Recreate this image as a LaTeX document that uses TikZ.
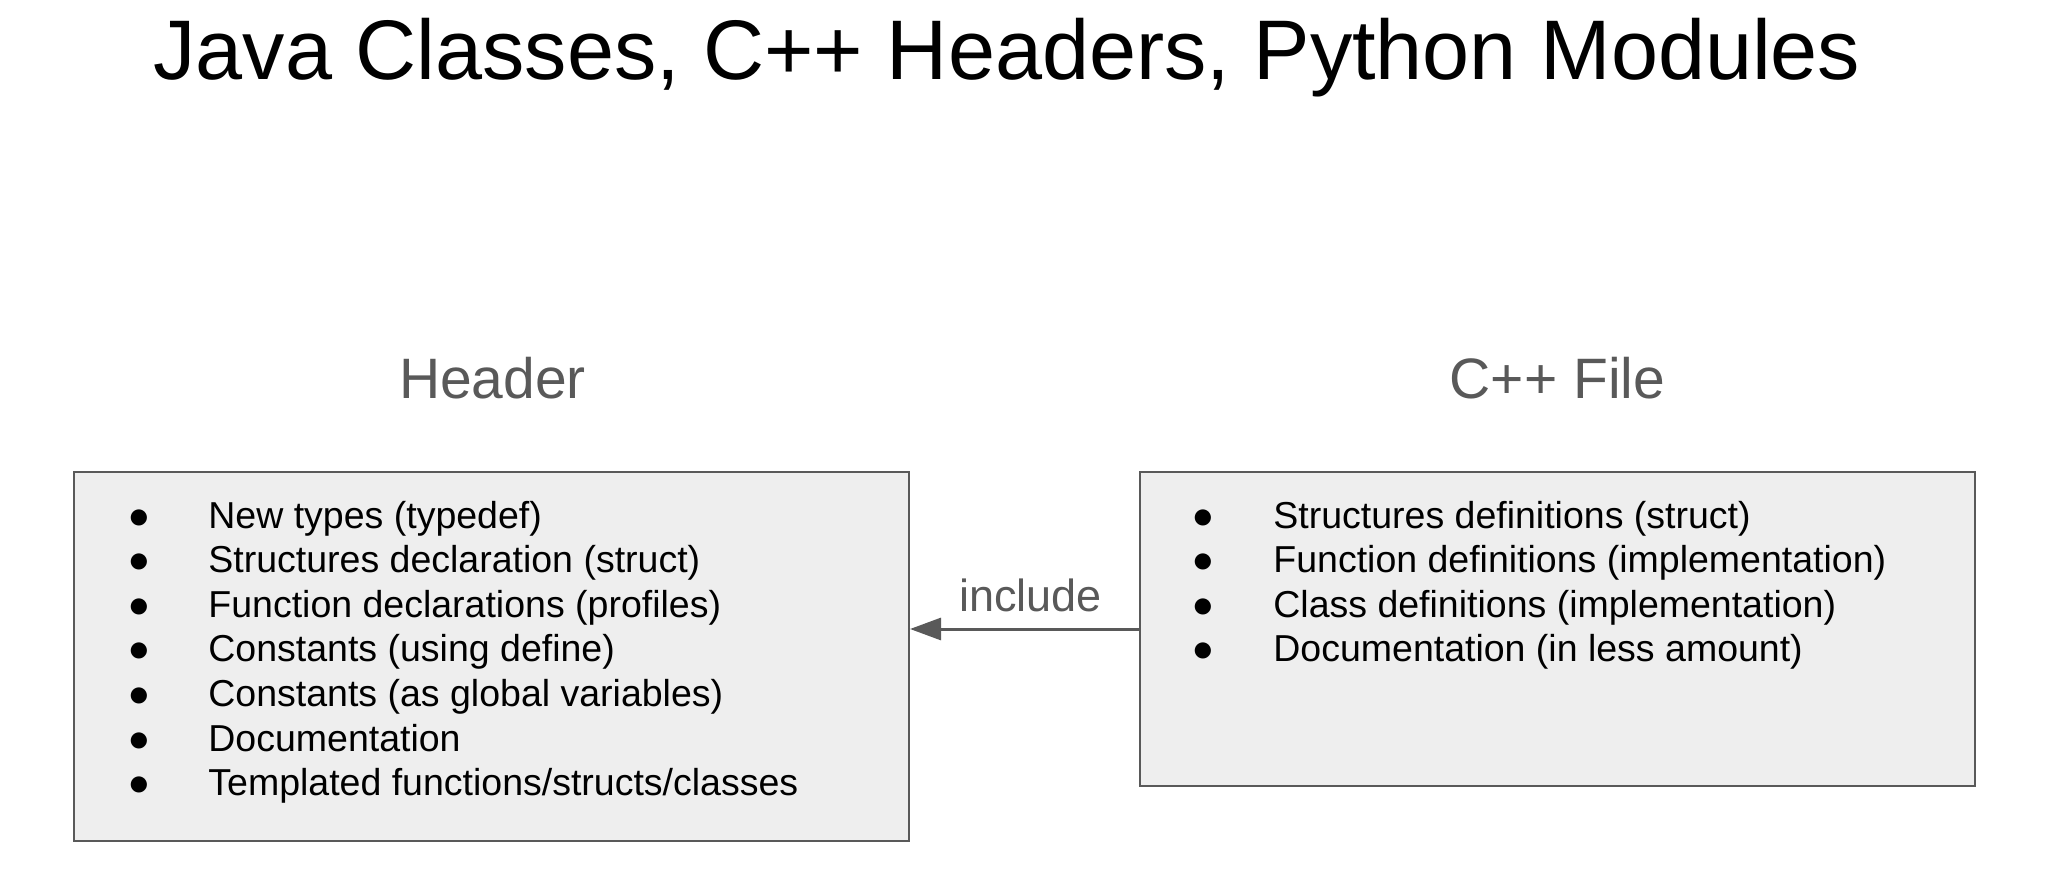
\documentclass[tikz,border=0pt]{standalone}
\usepackage{fontspec}
\setmainfont{Liberation Sans}
\usepackage{xcolor}
\usetikzlibrary{arrows.meta,positioning,calc}

\definecolor{labelgray}{HTML}{595959}
\definecolor{boxfill}{HTML}{EEEEEE}

\begin{document}
\begin{tikzpicture}[
    x=0.5pt, y=-0.5pt,
    box/.style={rectangle, draw=labelgray, line width=1pt, fill=boxfill, minimum width=417.5pt, anchor=north west, inner sep=0pt},
    heading/.style={anchor=base, inner sep=0pt, font=\fontsize{42.3}{50}\selectfont},
    boxlabel/.style={anchor=base, inner sep=0pt, text=labelgray, font=\fontsize{28.5}{34}\selectfont},
    item/.style={anchor=base west, inner sep=0pt, font=\fontsize{18.75}{22}\selectfont},
    dot/.style={anchor=base, inner sep=0pt, font=\fontsize{18.75}{22}\selectfont},
    line/.style={draw=labelgray, line width=1.5pt, -{Triangle[length=15.5pt, width=11pt]}}
]
    \useasboundingbox (0,0) rectangle (2057,882);

    % Title
    \node [heading] (title) at (1007,80) {Java Classes, C++ Headers, Python Modules};

    % Boxes
    \node [box, minimum height=184.5pt] (header) at (73,471) {};
    \node [box, minimum height=157pt] (cppfile) at (1139,471) {};
    \node [boxlabel] (headerlabel) at ($(header.north)+(1,-72)$) {Header};
    \node [boxlabel] (cpplabel) at ($(cppfile.north)+(0,-72)$) {C++ File};

    % Header contents
    \foreach \txt [count=\i] in {New types (typedef), Structures declaration (struct),
        Function declarations (profiles), Constants (using define),
        Constants (as global variables), Documentation, Templated functions/structs/classes} {
        \node [dot] (hdot\i) at (139,{528+44.6*(\i-1)}) {●};
        \node [item] (hitem\i) at (208,{528+44.6*(\i-1)}) {\txt};
    }

    % C++ file contents
    \foreach \txt [count=\i] in {Structures definitions (struct), Function definitions (implementation),
        Class definitions (implementation), Documentation (in less amount)} {
        \node [dot] (cdot\i) at (1203,{528+44.6*(\i-1)}) {●};
        \node [item] (citem\i) at (1273,{528+44.6*(\i-1)}) {\txt};
    }

    % Edges
    \path [line] (cppfile.west) -- (cppfile.west -| header.east)
        node [midway, above=8pt, xshift=3pt, inner sep=0pt, text=labelgray, font=\fontsize{22.5}{27}\selectfont] (inc) {include};
\end{tikzpicture}
\end{document}
